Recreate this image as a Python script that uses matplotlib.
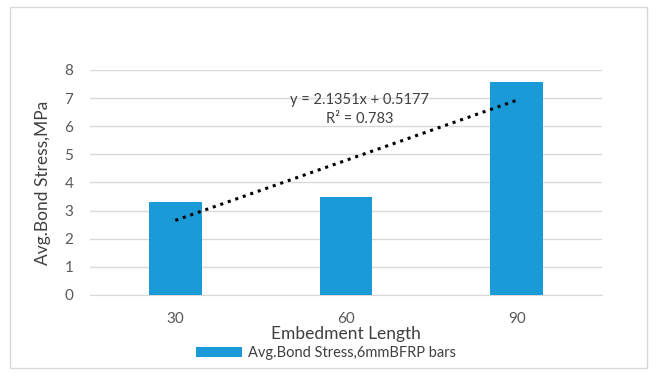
import numpy as np
import matplotlib
matplotlib.use("Agg")
import matplotlib.pyplot as plt
from matplotlib.patches import Rectangle

categories = ["30", "60", "90"]
bond_stress = [3.30, 3.49, 7.58]
slope, intercept = 2.1351, 0.5177
r_squared = 0.783

plt.rcParams["font.family"] = ["Lato", "DejaVu Sans"]
text_c = "#404040"
tick_c = "#595959"
bar_c = "#1a9ad6"

fig = plt.figure(figsize=(6.58, 3.76), dpi=100)
W, H = 658, 376
ax = fig.add_axes([90 / W, 1 - 295 / H, 512 / W, 225 / H])

x = np.arange(1, len(categories) + 1)
ax.bar(x, bond_stress, width=0.31, color=bar_c, zorder=3,
       label="Avg.Bond Stress,6mmBFRP bars")

# linear trendline across the bar positions
tx = np.array([x[0], x[-1]])
ax.plot(tx, slope * tx + intercept, ls=(0, (1, 1.6)), lw=2.2, color="black", zorder=4)
ax.text(2.08, 6.93, f"y = {slope}x + {intercept}", ha="center", va="center",
        fontsize=10.5, color=text_c)
ax.text(2.08, 6.25, f"R² = {r_squared}", ha="center", va="center",
        fontsize=10.5, color=text_c)

ax.set_xlim(0.5, 3.5)
ax.set_ylim(0, 8)
ax.set_yticks(range(0, 9))
ax.set_xticks(x)
ax.set_xticklabels(categories)
ax.yaxis.grid(True, color="#d9d9d9", lw=1, zorder=0)
ax.tick_params(length=0, labelsize=11, colors=tick_c, pad=12)
ax.tick_params(axis="x", pad=12)
for s in ["top", "right", "left"]:
    ax.spines[s].set_visible(False)
ax.spines["bottom"].set_color("#d9d9d9")

ax.set_xlabel("Embedment Length", fontsize=12.5, color=text_c, labelpad=0)
ax.set_ylabel("Avg.Bond Stress,MPa", fontsize=12.5, color=text_c, labelpad=10)

fig.legend(loc="center", bbox_to_anchor=(326 / W, 1 - 353 / H), frameon=False,
           fontsize=10.5, handlelength=3.2, handleheight=0.65, handletextpad=0.4,
           labelcolor=text_c, borderpad=0)

fig.patches.append(Rectangle((10 / W, 1 - 368 / H), 637 / W, 361 / H,
                             transform=fig.transFigure, fill=False,
                             edgecolor="#d9d9d9", lw=1))

fig.savefig("out.png", dpi=100)
